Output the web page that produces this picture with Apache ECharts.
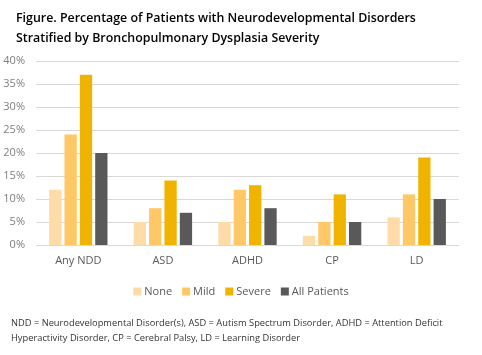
<!DOCTYPE html>
<html><head><meta charset="utf-8">
<script src="https://cdn.jsdelivr.net/npm/echarts@6/dist/echarts.min.js"></script>
<style>html,body{margin:0;padding:0;background:#fff}#c{width:482px;height:355px}</style>
</head><body><div id="c"></div>
<script>
var categories = ['Any NDD', 'ASD', 'ADHD', 'CP', 'LD'];
var seriesNames = ['None', 'Mild', 'Severe', 'All Patients'];
var noneVals = [12, 5, 5, 2, 6];
var mildVals = [24, 8, 12, 5, 11];
var severeVals = [37, 14, 13, 11, 19];
var allVals = [20, 7, 8, 5, 10];
var yTicks = [0, 5, 10, 15, 20, 25, 30, 35, 40];
var colors = ['#FFDBA8', '#FFC867', '#F0B400', '#595959'];
var values = [noneVals, mildVals, severeVals, allVals];

var chart = echarts.init(document.getElementById('c'), null, {renderer: 'canvas'});
chart.setOption({
  animation: false,
  textStyle: {fontFamily: 'Open Sans'},
  title: {
    text: 'Figure. Percentage of Patients with Neurodevelopmental Disorders\nStratified by Bronchopulmonary Dysplasia Severity',
    left: 11, top: 3,
    textStyle: {fontSize: 12.4, fontWeight: 600, color: '#000', lineHeight: 20, fontFamily: 'Open Sans'}
  },
  legend: {
    bottom: 53, left: 'center',
    itemWidth: 8, itemHeight: 8, itemGap: 10,
    icon: 'rect',
    textStyle: {color: '#595959', fontSize: 11, padding: [0, 0, 0, -2]},
    data: seriesNames
  },
  grid: {left: 36, right: 23, top: 61, bottom: 110, containLabel: false},
  xAxis: {
    type: 'category', data: categories,
    axisLine: {show: false}, axisTick: {show: false},
    axisLabel: {color: '#595959', fontSize: 11, margin: 10}
  },
  yAxis: {
    type: 'value', min: 0, max: 40, interval: 5,
    axisLine: {show: false}, axisTick: {show: false},
    axisLabel: {color: '#7f7f7f', fontSize: 11, formatter: function (v) { return v + '%'; }, margin: 11},
    splitLine: {lineStyle: {color: '#d9d9d9', width: 1}}
  },
  series: seriesNames.map(function (n, i) {
    return {
      name: n, type: 'bar', data: values[i],
      itemStyle: {color: colors[i]},
      barGap: '25%', barCategoryGap: '31%'
    };
  }),
  graphic: [{
    type: 'text', left: 11, top: 316,
    style: {
      text: 'NDD = Neurodevelopmental Disorder(s), ASD = Autism Spectrum Disorder, ADHD = Attention Deficit\nHyperactivity Disorder, CP = Cerebral Palsy, LD = Learning Disorder',
      fontSize: 9.3, lineHeight: 15, fill: '#333', fontFamily: 'Open Sans'
    }
  }]
});
</script></body></html>
